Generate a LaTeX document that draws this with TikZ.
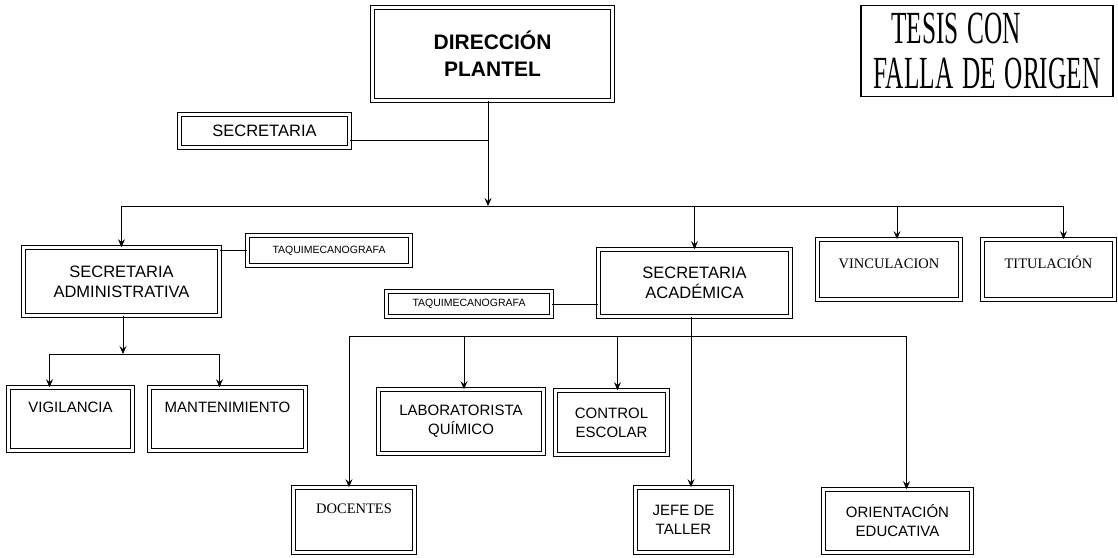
\documentclass[tikz,border=0pt]{standalone}
\usepackage{fontspec}
\setmainfont{Liberation Sans}
\newfontfamily\oldfont{Liberation Serif}
\usetikzlibrary{positioning,arrows.meta}
\tikzset{>={Stealth[length=8pt,width=7pt,inset=3pt]},
org/.style={draw,double,double distance=3.5pt,line width=0.75pt,align=center,inner sep=2pt}, % double frame of every office
mid/.style={org,font=\fontsize{15}{19}\selectfont},
big/.style={org,font=\fontsize{16.5}{20}\selectfont},
tag/.style={org,font=\fontsize{10.5}{12}\selectfont},
topbox/.style={inner ysep=13.5pt},
link/.style={line width=0.8pt}
}
\begin{document}
\begin{tikzpicture}[x=1pt,y=-1pt]
    \useasboundingbox (0,0) rectangle (1118,557);
    \node[org,font=\bfseries\fontsize{21}{27}\selectfont,minimum width=240pt,minimum height=93pt] (dir) at (492.5,54) {DIRECCIÓN\\PLANTEL};
    \node[big,minimum width=170pt,minimum height=33pt] (secr) at (264.5,131) {SECRETARIA};
    \node[big,minimum width=196pt,minimum height=68pt] (sadm) at (121.5,281.5) {SECRETARIA\\ADMINISTRATIVA};
    \node[tag,minimum width=163pt,minimum height=30pt] (taqA) at (329,250.5) {TAQUIMECANOGRAFA};
    \node[tag,minimum width=165pt,minimum height=25pt] (taqB) at (469,304) {TAQUIMECANOGRAFA};
    \node[big,minimum width=192pt,minimum height=67pt] (sacad) at (694.5,283) {SECRETARIA\\ACADÉMICA};
    \node[org,topbox,font=\oldfont\fontsize{14.5}{17}\selectfont,minimum width=143pt,text height=15pt,text depth=18pt] (vinc) at (889,269.5) {VINCULACION};
    \node[org,topbox,font=\oldfont\fontsize{14.5}{17}\selectfont,minimum width=132pt,text height=15pt,text depth=18pt] (tit) at (1048.5,269.5) {TITULACIÓN};
    \node[mid,topbox,minimum width=124pt,text height=11pt,text depth=25pt] (vig) at (70.5,419) {VIGILANCIA};
    \node[mid,topbox,minimum width=156pt,text height=11pt,text depth=25pt] (mant) at (227.5,419) {MANTENIMIENTO};
    \node[mid,minimum width=165pt,minimum height=64pt] (lab) at (461,421.5) {LABORATORISTA\\QUÍMICO};
    \node[mid,minimum width=112pt,minimum height=64pt] (ctrl) at (611.5,422.5) {CONTROL\\ESCOLAR};
    \node[org,topbox,font=\oldfont\fontsize{14.5}{17}\selectfont,minimum width=121pt,text height=12pt,text depth=26pt] (doc) at (354,520) {DOCENTES};
    \node[mid,minimum width=96pt,minimum height=65pt] (jefe) at (683.5,520) {JEFE DE\\TALLER};
    \node[mid,minimum width=148pt,minimum height=63pt] (orient) at (897.5,521) {ORIENTACIÓN\\EDUCATIVA};
    \node[draw,line width=1.8pt,minimum width=252pt,minimum height=91pt,align=center,
          font=\oldfont\fontsize{46}{45}\selectfont] (stamp) at (987,51)
          {\scalebox{0.55}[1]{TESIS\hspace{0.35em}CON}\hspace*{62pt}\\\scalebox{0.55}[1]{FALLA\hspace{0.35em}DE\hspace{0.35em}ORIGEN}};

    \coordinate (hub) at (488,206);
    \coordinate (hubA) at (123,354);
    \coordinate (hubB) at (691,336);

    \draw[link,->] (dir.south -| hub) -- (hub);
    \draw[link] ([yshift=-9pt]secr.east) -- ([yshift=-9pt]secr.east -| hub);
    \draw[link,->] (hub) -| (sadm.north);
    \draw[link,->] (hub) -| (sacad.north);
    \draw[link,->] (hub) -| ([xshift=8pt]vinc.north);
    \draw[link,->] (hub) -| ([xshift=15pt]tit.north);
    \draw[link] (sadm.east |- taqA.west) -- (taqA.west);
    \draw[link] (taqB.east) -- (taqB.east -| sacad.west);
    \draw[link,->] (sadm.south -| hubA) -- (hubA);
    \draw[link,->] (hubA) -| ([xshift=-21pt]vig.north);
    \draw[link,->] (hubA) -| ([xshift=-8pt]mant.north);
    \draw[link] (sacad.south -| hubB) -- (hubB);
    \draw[link,->] (hubB) -- (hubB |- jefe.north);
    \draw[link,->] (hubB) -| ([xshift=-5pt]doc.north);
    \draw[link,->] (hubB) -| ([xshift=3pt]lab.north);
    \draw[link,->] (hubB) -| ([xshift=6pt]ctrl.north);
    \draw[link,->] (hubB) -| ([xshift=9pt]orient.north);
\end{tikzpicture}
\end{document}
